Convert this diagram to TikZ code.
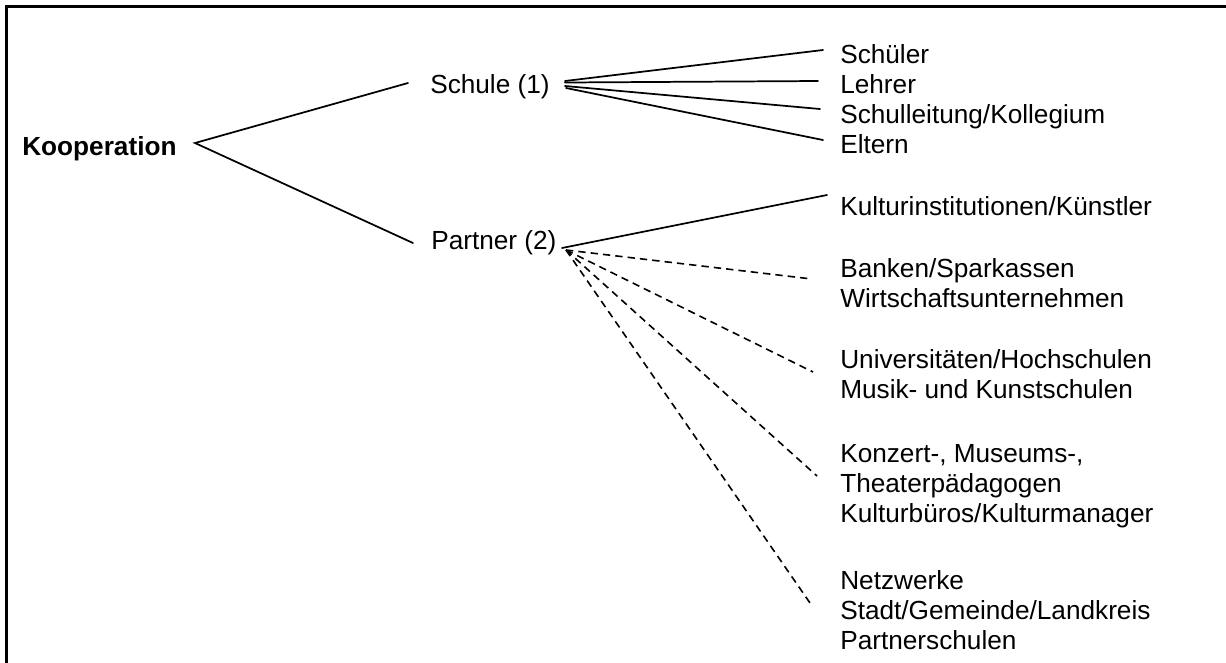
\documentclass[tikz,border=0pt]{standalone}
\usepackage{fontspec}
\setmainfont{Liberation Sans}
\begin{document}
\begin{tikzpicture}[x=0.75pt,y=-0.75pt,
  every node/.style={inner sep=0pt,font=\fontsize{19.65pt}{22.5pt}\selectfont},
  lbl/.style={anchor=base west},
  conn/.style={line width=1.3pt,line cap=round},
  dconn/.style={line width=1.2pt,dash pattern=on 5.5pt off 3.8pt}]
\useasboundingbox (0,0) rectangle (1226,662);
\begin{scope}
  \clip (0,0) rectangle (1226,662);
  \draw[line width=2.2pt] (6.7,720) -- (6.7,6.7) -- (1260,6.7);
\end{scope}
% nodes
\node[lbl,font=\fontsize{19.65pt}{22.5pt}\selectfont\bfseries] (koop) at (22,155) {Kooperation};
\node[lbl] (schule) at (430,93) {Schule (1)};
\node[lbl] (partner) at (431,249) {Partner (2)};
\node[lbl] (s1) at (840,63) {Schüler};
\node[lbl] (s2) at (840,93) {Lehrer};
\node[lbl] (s3) at (840,123) {Schulleitung/Kollegium};
\node[lbl] (s4) at (840,153) {Eltern};
\node[lbl] (p1) at (840,215) {Kulturinstitutionen/Künstler};
\node[lbl] (p2) at (840,277) {\begin{tabular}[t]{@{}l@{}}Banken/Sparkassen\\Wirtschaftsunternehmen\end{tabular}};
\node[lbl] (p3) at (840,368) {\begin{tabular}[t]{@{}l@{}}Universitäten/Hochschulen\\Musik- und Kunstschulen\end{tabular}};
\node[lbl] (p4) at (840,462) {\begin{tabular}[t]{@{}l@{}}Konzert-, Museums-,\\Theaterpädagogen\\Kulturbüros/Kulturmanager\end{tabular}};
\node[lbl] (p5) at (840,589) {\begin{tabular}[t]{@{}l@{}}Netzwerke\\Stadt/Gemeinde/Landkreis\\Partnerschulen\end{tabular}};
% connector ends
\coordinate (kR) at (195,143);
\coordinate (schIn) at (408,83);
\coordinate (parIn) at (413,243);
\coordinate (schO1) at (565,81);
\coordinate (schO2) at (565,82.5);
\coordinate (schO3) at (565,86);
\coordinate (schO4) at (566,88);
\coordinate (s1In) at (823,50);
\coordinate (s2In) at (818,81);
\coordinate (s3In) at (820,109);
\coordinate (s4In) at (823,140);
\coordinate (parO) at (562,248);
\coordinate (parD) at (566,250);
\coordinate (p1In) at (827,195);
\coordinate (p2In) at (812,279);
\coordinate (p3In) at (813,372);
\coordinate (p4In) at (817,476);
\coordinate (p5In) at (810,603);
% connectors
\draw[conn] (schIn) -- (kR) -- (parIn);
\draw[conn] (schO1) -- (s1In);
\draw[conn] (schO2) -- (s2In);
\draw[conn] (schO3) -- (s3In);
\draw[conn] (schO4) -- (s4In);
\draw[conn] (parO) -- (p1In);
\draw[dconn] (parD) -- (p2In);
\draw[dconn] (parD) -- (p3In);
\draw[dconn] (parD) -- (p4In);
\draw[dconn] (parD) -- (p5In);
\end{tikzpicture}
\end{document}
